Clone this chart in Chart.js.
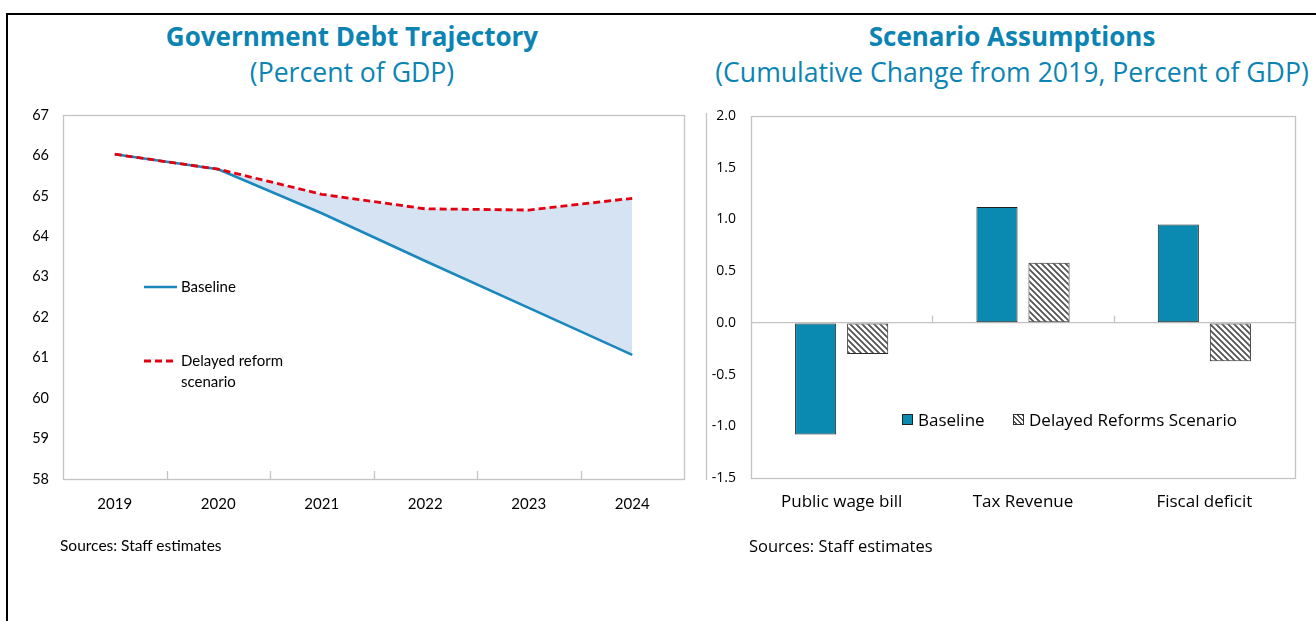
<!DOCTYPE html>
<html>
<head>
<meta charset="utf-8">
<script src="https://cdn.jsdelivr.net/npm/chart.js@4.4.1/dist/chart.umd.min.js"></script>
<style>
  html, body { margin: 0; padding: 0; background: #fff; }
  body { width: 1316px; height: 621px; position: relative; overflow: hidden; }
  .frame { position: absolute; left: 6px; top: 13px; width: 1400px; height: 700px;
           border-left: 2.5px solid #000; border-top: 2.5px solid #000; box-sizing: border-box; }
  canvas { position: absolute; top: 0; }
  .title { position: absolute; width: 640px; text-align: center; color: #0b84b4;
           font-family: 'Open Sans', sans-serif; font-size: 26px; line-height: 32px; white-space: nowrap; }
  .title b { font-weight: 700; }
  .sub { font-size: 26.6px; }
  .txt { position: absolute; white-space: nowrap; color: #000; }
  .lato { font-family: Lato, 'Noto Sans', sans-serif; font-size: 15px; line-height: 21px; }
  .sans { font-family: 'Open Sans', sans-serif; font-size: 17px; line-height: 22px; }
  .sw { position: absolute; box-sizing: border-box; width: 11px; height: 11px; }
</style>
</head>
<body>
<div class="frame"></div>

<div class="title" style="left:32px; top:20px;"><b>Government Debt Trajectory</b></div>
<div class="title sub" style="left:32px; top:56px;">(Percent of GDP)</div>
<div class="title" style="left:692px; top:20px;"><b>Scenario Assumptions</b></div>
<div class="title sub" style="left:692px; top:56px;">(Cumulative Change from 2019, Percent of GDP)</div>

<canvas id="debt" width="700" height="621" style="left:0"></canvas>
<canvas id="assump" width="616" height="621" style="left:700px"></canvas>

<!-- legend of the debt chart -->
<svg style="position:absolute; left:144px; top:282px;" width="34" height="10">
  <line x1="0" y1="5" x2="33" y2="5" stroke="#1a87bd" stroke-width="2.6"/>
</svg>
<div class="txt lato" style="left:181px; top:276px;">Baseline</div>
<svg style="position:absolute; left:144px; top:356px;" width="34" height="10">
  <line x1="0" y1="5" x2="33" y2="5" stroke="#e3000f" stroke-width="2.8" stroke-dasharray="7,4"/>
</svg>
<div class="txt lato" style="left:181px; top:350px; line-height:21px;">Delayed reform<br>scenario</div>
<div class="txt lato" style="left:60px; top:535px; font-size:15.5px;">Sources: Staff estimates</div>

<!-- legend of the assumptions chart -->
<div class="sw" style="left:902px; top:414px; background:#0a8ab0; border:1px solid #222;"></div>
<div class="txt sans" style="left:918px; top:409px;">Baseline</div>
<div class="sw" style="left:1013px; top:414px; border:1px solid #333;
     background:repeating-linear-gradient(45deg, #fff 0 1.4px, #555 1.4px 2.6px, #fff 2.6px 3.5px);"></div>
<div class="txt sans" style="left:1029px; top:409px;">Delayed Reforms Scenario</div>
<div class="txt sans" style="left:749px; top:535px; font-size:16.5px;">Sources: Staff estimates</div>

<script>
// Government debt, percent of GDP
const years = ['2019', '2020', '2021', '2022', '2023', '2024'];
const baselineDebt = [66.03, 65.66, 64.57, 63.39, 62.23, 61.07];
const delayedDebt  = [66.03, 65.66, 65.04, 64.68, 64.65, 64.94];
const debtMin = 58, debtMax = 67, debtStep = 1;

// Cumulative change from 2019, percent of GDP
const items = ['Public wage bill', 'Tax Revenue', 'Fiscal deficit'];
const baselineChange = [-1.08, 1.12, 0.95];
const delayedChange  = [-0.30, 0.58, -0.37];
const changeMin = -1.5, changeMax = 2.0, changeStep = 0.5;

const BORDER = '#c4c4c4';

// Plot-area box plus short inward ticks between categories
const plotBox = {
  id: 'plotBox',
  beforeDatasetsDraw(chart, args, opts) {
    const { ctx, chartArea: a, scales } = chart;
    ctx.save();
    ctx.strokeStyle = BORDER;
    ctx.lineWidth = 1.3;
    ctx.strokeRect(Math.round(a.left) + 0.5, Math.round(a.top) + 0.5,
                   Math.round(a.right - a.left), Math.round(a.bottom - a.top));
    const x = scales.x;
    const base = opts.tickBase === 'zero' ? scales.y.getPixelForValue(0) : a.bottom;
    ctx.beginPath();
    for (let i = 0; i < x.ticks.length - 1; i++) {
      const px = Math.round((x.getPixelForValue(i) + x.getPixelForValue(i + 1)) / 2) + 0.5;
      ctx.moveTo(px, base);
      ctx.lineTo(px, base - opts.tickLen);
    }
    ctx.stroke();
    if (opts.sideRule !== undefined) {
      ctx.beginPath();
      ctx.moveTo(opts.sideRule + 0.5, a.top - 3);
      ctx.lineTo(opts.sideRule + 0.5, a.bottom + 2);
      ctx.stroke();
    }
    ctx.restore();
  }
};

Chart.defaults.animation = false;
Chart.defaults.responsive = false;
Chart.defaults.color = '#000';

// ---------- Debt trajectory ----------
new Chart(document.getElementById('debt'), {
  type: 'line',
  data: {
    labels: years,
    datasets: [
      {
        label: 'Delayed reform scenario',
        data: delayedDebt,
        borderColor: '#e3000f',
        borderWidth: 2.8,
        borderDash: [7, 4],
        pointRadius: 0,
        tension: 0,
        fill: false
      },
      {
        label: 'Baseline',
        data: baselineDebt,
        borderColor: '#1a87bd',
        borderWidth: 2.6,
        pointRadius: 0,
        tension: 0,
        fill: '-1',
        backgroundColor: '#d6e3f3'
      }
    ]
  },
  options: {
    layout: { padding: { top: 115, right: 16, bottom: 102, left: 0 } },
    plugins: {
      legend: { display: false },
      tooltip: { enabled: false },
      plotBox: { tickLen: 8 }
    },
    scales: {
      x: {
        offset: true,
        grid: { display: false, drawTicks: false },
        border: { display: false },
        ticks: { padding: 16, font: { family: 'Lato', size: 15 }, color: '#000' },
        afterFit(s) { s.height = 40; }
      },
      y: {
        min: debtMin, max: debtMax,
        grid: { display: false, drawTicks: false },
        border: { display: false },
        ticks: { stepSize: debtStep, padding: 14, font: { family: 'Lato', size: 14.5 }, color: '#000' },
        afterFit(s) { s.width = 63; }
      }
    }
  },
  plugins: [plotBox]
});

// ---------- Scenario assumptions ----------
const assumpCanvas = document.getElementById('assump');
function hatchPattern(c) {
  const t = document.createElement('canvas');
  t.width = t.height = 6;
  const g = t.getContext('2d');
  g.fillStyle = '#fff';
  g.fillRect(0, 0, 6, 6);
  g.strokeStyle = '#505050';
  g.lineWidth = 1.7;
  g.beginPath();
  g.moveTo(-1, -1); g.lineTo(7, 7);
  g.moveTo(-4, 2); g.lineTo(4, 10);
  g.moveTo(2, -4); g.lineTo(10, 4);
  g.stroke();
  return c.createPattern(t, 'repeat');
}

new Chart(assumpCanvas, {
  type: 'bar',
  data: {
    labels: items,
    datasets: [
      {
        label: 'Baseline',
        data: baselineChange,
        backgroundColor: '#0a8ab0',
        borderColor: '#1e1e1e',
        borderWidth: 1,
        borderSkipped: false
      },
      {
        label: 'Delayed Reforms Scenario',
        data: delayedChange,
        backgroundColor: hatchPattern(assumpCanvas.getContext('2d')),
        borderColor: '#2a2a2a',
        borderWidth: 1,
        borderSkipped: false
      }
    ]
  },
  options: {
    layout: { padding: { top: 116, right: 21, bottom: 103, left: 0 } },
    datasets: { bar: { categoryPercentage: 0.574, barPercentage: 0.79 } },
    plugins: {
      legend: { display: false },
      tooltip: { enabled: false },
      plotBox: { tickLen: 7, tickBase: 'zero', sideRule: 6 }
    },
    scales: {
      x: {
        grid: { display: false, drawTicks: false },
        border: { display: false },
        ticks: { padding: 14, font: { family: 'Open Sans', size: 17 }, color: '#000' },
        afterFit(s) { s.height = 40; }
      },
      y: {
        min: changeMin, max: changeMax,
        grid: {
          drawTicks: false,
          color: c => (c.tick && c.tick.value === 0 ? BORDER : 'rgba(0,0,0,0)'),
          lineWidth: 1.3
        },
        border: { display: false },
        ticks: {
          stepSize: changeStep, padding: 15,
          font: { family: 'Open Sans', size: 14 }, color: '#000',
          callback: v => Number(v).toFixed(1)
        },
        afterFit(s) { s.width = 51; }
      }
    }
  },
  plugins: [plotBox]
});
</script>
</body>
</html>
